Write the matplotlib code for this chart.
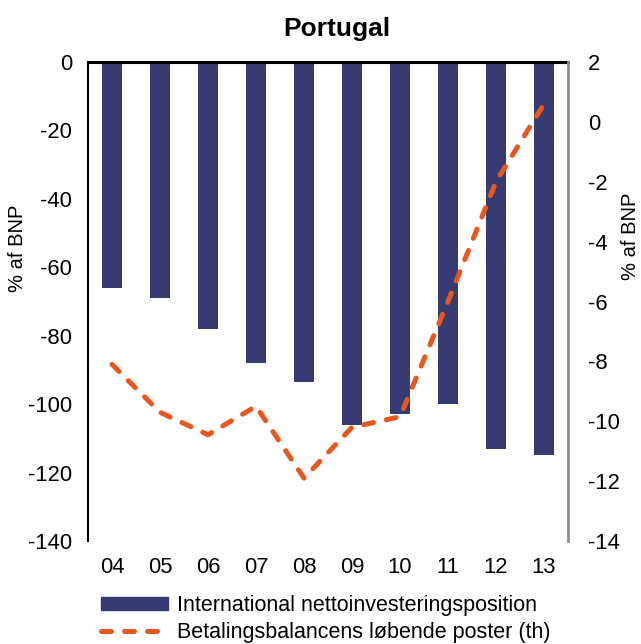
import matplotlib
matplotlib.use("Agg")
import matplotlib.pyplot as plt
from matplotlib.patches import Patch
from matplotlib.lines import Line2D

plt.rcParams['font.family'] = ['Liberation Sans', 'DejaVu Sans']
plt.rcParams['axes.unicode_minus'] = False

years = ['04', '05', '06', '07', '08', '09', '10', '11', '12', '13']
# international nettoinvesteringsposition, % af BNP (left axis)
nip = [-66, -69, -78, -88, -93.5, -106, -103, -100, -113, -115]
# betalingsbalancens loebende poster, % af BNP (right axis)
ca = [-8.1, -9.7, -10.45, -9.5, -11.9, -10.2, -9.85, -6.0, -2.0, 0.6]

bar_color = '#363C71'
line_color = '#E9561E'

fig = plt.figure(figsize=(6.41, 6.44), dpi=100)
ax = fig.add_axes([88/641, 1 - 541/644, 480/641, 479/644])

x = list(range(len(years)))
ax.bar(x, nip, width=0.42, color=bar_color)
ax.set_xlim(-0.5, 9.5)
ax.set_ylim(-140, 0)
ax.set_yticks(range(-140, 1, 20))
ax.set_xticks(x)
ax.set_xticklabels(years)
ax.tick_params(axis='both', length=0, labelsize=15.8)
ax.tick_params(axis='y', pad=11.5)
ax.tick_params(axis='x', pad=11.5)

for s in ['bottom', 'right']:
    ax.spines[s].set_visible(False)
ax.spines['top'].set_linewidth(2.2)
ax.spines['left'].set_linewidth(1.5)

ax2 = ax.twinx()
ln, = ax2.plot(x, ca, color=line_color, lw=3.6, dash_capstyle='round')
ln.set_dashes([2.0, 2.6])
ax2.set_ylim(-14, 2)
ax2.set_yticks(range(-14, 3, 2))
ax2.tick_params(axis='y', length=0, labelsize=15.8, pad=14.2)
for s in ['top', 'bottom', 'left']:
    ax2.spines[s].set_visible(False)
ax2.spines['right'].set_color('#8C8C8C')
ax2.spines['right'].set_linewidth(2)

fig.text(337/641, 1 - 29/644, 'Portugal', ha='center', va='center',
         fontsize=19, fontweight='bold')
fig.text(18/641, 1 - 248/644, '% af BNP', rotation=90, ha='center',
         va='center', fontsize=14.5)
fig.text(630/641, 1 - 236/644, '% af BNP', rotation=90, ha='center',
         va='center', fontsize=14.5)

handles = [Patch(color=bar_color),
           Line2D([], [], color=line_color, lw=3.6, dash_capstyle='round',
                  dashes=[2.0, 2.6])]
labels = ['International nettoinvesteringsposition',
          'Betalingsbalancens løbende poster (th)']
fig.legend(handles, labels, loc='upper left',
           bbox_to_anchor=(101/641, 1 - 595/644), frameon=False,
           fontsize=15.5, handlelength=3.1, handletextpad=0.45,
           labelspacing=0.3, borderpad=0, borderaxespad=0, handleheight=0.6)

fig.savefig('out.png', dpi=100)
